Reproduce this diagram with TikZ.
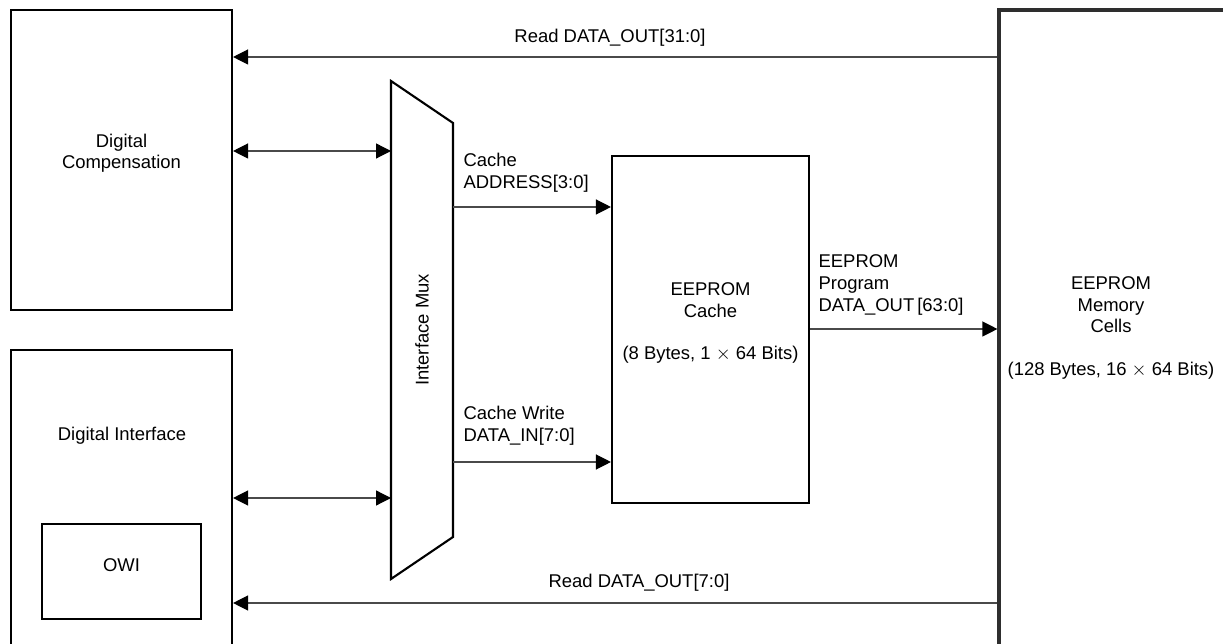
\documentclass[tikz,border=0pt]{standalone}
\usepackage{fontspec}
\setmainfont{Liberation Sans}
\usetikzlibrary{arrows.meta, positioning, calc, fit}
\definecolor{cline}{HTML}{4A4A4A}
\definecolor{cframe}{HTML}{2E2E2E}
\tikzset{
  every picture/.style={font=\fontsize{10.5}{12.4}\selectfont, line width=0.7pt},
  blk/.style={draw=black, line width=1.2pt, inner sep=0pt, align=center},
  sig/.style={-{Triangle[length=3mm, width=3mm, color=black]}, draw=cline, line width=0.7pt},
  bisig/.style={{Triangle[length=3mm, width=3mm, color=black]}-{Triangle[length=3mm, width=3mm, color=black]}, draw=cline, line width=0.7pt},
  lbl/.style={align=left, inner sep=0pt},
}
\begin{document}
\begin{tikzpicture}[x=0.02cm, y=-0.02cm]
  \useasboundingbox (0,0) rectangle (1223,644);
  % blocks
  \node[blk, fit={(11,10) (232,310)}] (comp) {Digital\\Compensation};
  \node[blk, fit={(11,350) (232,650)}] (dif) {};
  \node[anchor=base] (diftext) at (122,441) {Digital Interface};
  \node[blk, fit={(42,524) (201,619)}] (owi) {OWI};
  \node[blk, fit={(612,156) (809,503)}] (cache) {EEPROM\\Cache\\[12pt](8 Bytes, 1 $\times$ 64 Bits)};
  \node[blk, draw=cframe, line width=1.8pt, fit={(999,10) (1240,650)}] (cells) {};
  \node[align=center] (cellstext) at (1111,328) {EEPROM\\Memory\\Cells\\[12pt](128 Bytes, 16 $\times$ 64 Bits)};
  % interface mux
  \coordinate (mtl) at (391,81);
  \coordinate (mtr) at (453,123);
  \coordinate (mbr) at (453,537);
  \coordinate (mbl) at (391,579);
  \draw[line width=1.2pt, line join=miter] (mtl) -- (mtr) -- (mbr) -- (mbl) -- cycle;
  \node[rotate=90] (muxtext) at (422,330) {Interface Mux};
  % mux ports
  \coordinate (mA) at (391,151);
  \coordinate (mB) at (391,498);
  \coordinate (mC) at (453,207);
  \coordinate (mD) at (453,462);
  \coordinate (pg) at (0,329);
  \coordinate (r31) at (0,57);
  \coordinate (r7) at (0,603);
  % connectors
  \draw[sig] (cells.west |- r31) -- (comp.east |- r31);
  \draw[sig] (cells.west |- r7) -- (dif.east |- r7);
  \draw[bisig] (comp.east |- mA) -- (mA);
  \draw[bisig] (dif.east |- mB) -- (mB);
  \draw[sig] (mC) -- (cache.west |- mC);
  \draw[sig] (mD) -- (cache.west |- mD);
  \draw[sig] (cache.east |- pg) -- (cells.west |- pg);
  % labels
  \node[anchor=base] (r31lbl) at (610,43) {Read DATA\_OUT[31:0]};
  \node[anchor=base] (r7lbl) at (639,587) {Read DATA\_OUT[7:0]};
  \node[lbl, anchor=north west] (addrlbl) at (463,153) {Cache\\ADDRESS[3:0]};
  \node[lbl, anchor=north west] (dinlbl) at (463,406) {Cache Write\\DATA\_IN[7:0]};
  \node[lbl, anchor=north west] (pglbl) at (818,254) {EEPROM\\Program\\DATA\_OUT\,[63:0]};
\end{tikzpicture}
\end{document}
